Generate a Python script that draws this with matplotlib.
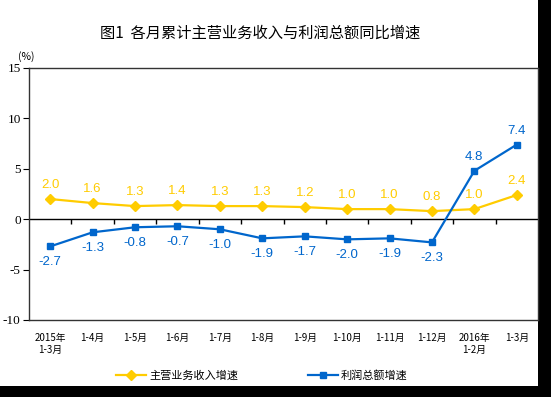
import matplotlib
matplotlib.use('Agg')
import matplotlib.pyplot as plt
from matplotlib.patches import Rectangle
import numpy as np

plt.rcParams['font.family'] = ['Noto Sans CJK SC', 'DejaVu Sans']

categories = ['2015年\n1-3月', '1-4月', '1-5月', '1-6月', '1-7月', '1-8月',
              '1-9月', '1-10月', '1-11月', '1-12月', '2016年\n1-2月', '1-3月']
income_growth = [2.0, 1.6, 1.3, 1.4, 1.3, 1.3, 1.2, 1.0, 1.0, 0.8, 1.0, 2.4]
profit_growth = [-2.7, -1.3, -0.8, -0.7, -1.0, -1.9, -1.7, -2.0, -1.9, -2.3, 4.8, 7.4]
y_ticks = [15, 10, 5, 0, -5, -10]

YELLOW = '#FFCC00'
BLUE = '#0066CC'

W, H = 551, 397
fig = plt.figure(figsize=(W / 100, H / 100), dpi=100, facecolor='black')
# white canvas, black strip on right/bottom like the source image
fig.patches.append(Rectangle((0, 11 / H), 538 / W, 1 - 11 / H, transform=fig.transFigure,
                             facecolor='white', edgecolor='none', zorder=-5))

ax = fig.add_axes([29 / W, (H - 320) / H, (538 - 29) / W, (320 - 68) / H])
x = np.arange(len(categories))

ax.plot(x, income_growth, color=YELLOW, lw=1.6, marker='D', ms=5.5, zorder=3)
ax.plot(x, profit_growth, color=BLUE, lw=1.6, marker='s', ms=4.5, zorder=3)

for i, v in enumerate(income_growth):
    ax.annotate(f'{v:.1f}', (i, v), xytext=(0, 10), textcoords='offset points',
                ha='center', va='center', color=YELLOW, fontsize=9.5, family='Liberation Sans')
for i, v in enumerate(profit_growth):
    off = 10 if v > 0 else -11
    ax.annotate(f'{v:.1f}', (i, v), xytext=(0, off), textcoords='offset points',
                ha='center', va='center', color=BLUE, fontsize=9.5, family='Liberation Sans')

ax.set_xlim(-0.5, len(categories) - 0.5)
ax.set_ylim(-10, 15)
ax.set_yticks(y_ticks)
ax.set_yticklabels([str(t) for t in y_ticks], family='Liberation Serif', fontsize=9.5)
ax.tick_params(axis='y', direction='out', length=4, width=0.8, pad=2)

# zero line with category separator ticks
ax.axhline(0, color='black', lw=1.0, zorder=2)
ax.vlines(x[:-1] + 0.5, -0.45, 0, color='black', lw=1.0, zorder=2)

ax.set_xticks(x)
ax.set_xticklabels(categories, fontsize=7, linespacing=1.25, va='top')
ax.tick_params(axis='x', length=0, pad=9)

for s in ax.spines.values():
    s.set_color('#333333')
    s.set_linewidth(1.0)

fig.text(260 / W, 1 - 33 / H, '图1  各月累计主营业务收入与利润总额同比增速',
         ha='center', va='center', fontsize=11)
fig.text(26 / W, 1 - 57 / H, '(%)', ha='center', va='center', fontsize=7.5)

leg = fig.legend(['主营业务收入增速', '利润总额增速'], loc='center',
                 bbox_to_anchor=(262 / W, 1 - 375 / H), ncol=2, frameon=False,
                 fontsize=8, handlelength=2.7, columnspacing=6.2, handletextpad=0.3)

fig.savefig('out.png', dpi=100, facecolor=fig.get_facecolor())
